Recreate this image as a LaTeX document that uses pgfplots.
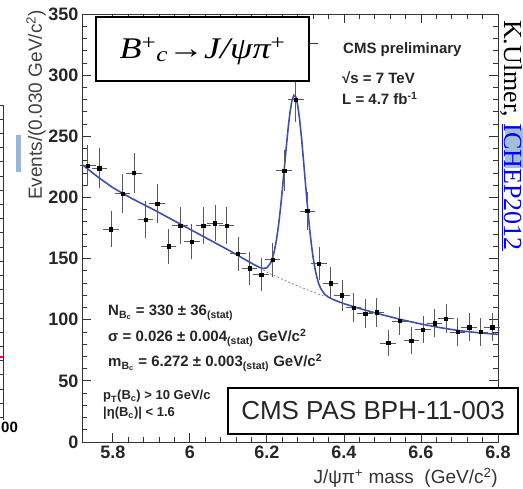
\documentclass[border=0pt]{standalone}
\usepackage{fontspec}
\setmainfont{Liberation Sans}
\newfontfamily\tnr{Liberation Serif}
\usepackage{pgfplots}
\usepackage{pgfplotstable}
\pgfplotsset{compat=1.18}
\definecolor{fitblue}{RGB}{60,80,180}
\definecolor{hlblue}{RGB}{165,190,215}
\definecolor{barblue}{RGB}{150,182,215}
\pgfplotstableread{
x y ex ey
5.735 226 0.015 15.0
5.765 224 0.015 15.0
5.795 174 0.015 13.2
5.825 203 0.015 14.2
5.855 220 0.015 14.8
5.885 182 0.015 13.5
5.915 195 0.015 14.0
5.945 160 0.015 12.6
5.975 177 0.015 13.3
6.005 164 0.015 12.8
6.035 177 0.015 13.3
6.065 179 0.015 13.4
6.095 177 0.015 13.3
6.125 154 0.015 12.4
6.155 142 0.015 11.9
6.185 137 0.015 11.7
6.215 149 0.015 12.2
6.245 222 0.015 14.9
6.275 280 0.015 16.7
6.305 189 0.015 13.7
6.335 146 0.015 12.1
6.365 130 0.015 11.4
6.395 120 0.015 11.0
6.425 110 0.015 10.5
6.455 105 0.015 10.2
6.485 106 0.015 10.3
6.515 81 0.015 9.0
6.545 99 0.015 9.9
6.575 83 0.015 9.1
6.605 92 0.015 9.6
6.635 97 0.015 9.8
6.665 101 0.015 10.0
6.695 90 0.015 9.5
6.725 94 0.015 9.7
6.755 90 0.015 9.5
6.785 94 0.015 9.7
}\datatab
\begin{document}
\begin{tikzpicture}
\useasboundingbox (-82pt,-47pt) rectangle (441pt,442pt);
\clip (-82pt,-47pt) rectangle (441pt,442pt);
\begin{axis}[at={(0pt,0pt)}, anchor=south west, scale only axis,
  width=416pt, height=428pt,
  xmin=5.72, xmax=6.80, ymin=0, ymax=350,
  xtick={5.8,6.0,6.2,6.4,6.6,6.8}, xticklabels={5.8,6,6.2,6.4,6.6,6.8},
  ytick={0,50,...,350},
  minor x tick num=4, minor y tick num=4,
  tick align=inside, major tick length=9pt, minor tick length=5pt,
  axis line style={black!80, line width=0.9pt},
  tick style={black!80, line width=0.8pt},
  ticklabel style={font=\fontsize{18}{18}\selectfont\bfseries, text=black!85},
  /pgf/number format/assume math mode=true,
  clip=false]
\addplot[fitblue, line width=1.6pt] coordinates {
(5.72,227)(5.76,217)(5.80,208)(5.85,199)(5.90,191)(5.95,182.5)(6.00,174)(6.05,165.5)(6.10,157)(6.13,151.6)(6.16,146.2)(6.17,144.5)(6.18,142.9)(6.19,141.9)(6.20,142.4)(6.21,146.5)(6.215,150.8)(6.22,157.0)(6.225,165.5)(6.23,176.5)(6.235,190.1)(6.24,205.8)(6.245,222.8)(6.25,240.0)(6.255,256.2)(6.26,269.6)(6.265,279.1)(6.27,283.5)(6.275,282.3)(6.28,275.5)(6.285,263.8)(6.29,248.4)(6.295,230.6)(6.30,211.9)(6.305,193.8)(6.31,177.2)(6.315,162.8)(6.32,150.9)(6.325,141.5)(6.33,134.4)(6.335,129.1)(6.34,125.4)(6.35,120.8)(6.36,118.4)(6.37,116.8)(6.38,115.5)(6.39,114.3)(6.40,113.1)(6.45,108.3)(6.50,104)(6.55,100)(6.60,96.5)(6.65,93.5)(6.70,91)(6.75,89.3)(6.80,88)};
\addplot[black!55, line width=0.6pt, dash pattern=on 2pt off 2pt] coordinates {
(6.19,140.8)(6.20,139.0)(6.22,136.0)(6.24,133.1)(6.26,130.3)(6.28,127.7)(6.30,125.1)(6.32,122.7)(6.34,120.3)(6.35,119.1)};
\addplot[only marks, mark=square*, mark size=1.7pt, black,
  error bars/.cd, x dir=both, x explicit, y dir=both, y explicit,
  error bar style={black!65, line width=0.6pt},
  error mark options={black!65, line width=0.6pt, mark size=2pt}]
  table[x=x, y=y, x error=ex, y error=ey] {\datatab};
\end{axis}
% title box
\draw[line width=1.5pt, fill=white] (14pt,361pt) rectangle (227pt,425pt);
\node[inner sep=0, xscale=1.2] at (120.5pt,391pt) {\tnr\fontsize{30}{30}\selectfont\itshape B\textsuperscript{\upshape +}\textsubscript{c}{\upshape →}J/ψπ\textsuperscript{\upshape +}};
\draw[black!80, line width=0.8pt] (227pt,399pt) -- (236pt,399pt);
% CMS box
\draw[line width=1.3pt, fill=white] (146pt,8pt) rectangle (436pt,54pt);
\node[inner sep=0, font=\fontsize{26}{26}\selectfont, text=black!85] at (291pt,31pt) {CMS PAS BPH-11-003};
% CMS texts
\begin{scope}[every node/.style={inner sep=0, anchor=base west, text=black!85}]
\node[font=\fontsize{15}{15}\selectfont\bfseries] at (261pt,388pt) {CMS preliminary};
\node[font=\fontsize{15}{15}\selectfont\bfseries] at (260pt,358pt) {√s = 7 TeV};
\node[font=\fontsize{15}{15}\selectfont\bfseries] at (260pt,337pt) {L = 4.7 fb\textsuperscript{-1}};
\node[font=\fontsize{15}{15}\selectfont\bfseries] at (26pt,126pt) {N\textsubscript{B\textsubscript{c}} = 330 ± 36\textsubscript{(stat)}};
\node[font=\fontsize{15}{15}\selectfont\bfseries] at (26pt,100pt) {σ = 0.026 ± 0.004\textsubscript{(stat)} GeV/c\textsuperscript{2}};
\node[font=\fontsize{15}{15}\selectfont\bfseries] at (26pt,75pt) {m\textsubscript{B\textsubscript{c}} = 6.272 ± 0.003\textsubscript{(stat)} GeV/c\textsuperscript{2}};
\node[font=\fontsize{13}{13}\selectfont\bfseries] at (21pt,42pt) {p\textsubscript{T}(B\textsubscript{c}) > 10 GeV/c};
\node[font=\fontsize{13}{13}\selectfont\bfseries] at (21pt,25pt) {|η(B\textsubscript{c})| < 1.6};
\end{scope}
% axis titles
\node[inner sep=0, anchor=base east, font=\fontsize{19}{19}\selectfont, text=black!80] at (416pt,-42pt) {J/ψπ\textsuperscript{+} mass\ \ (GeV/c\textsuperscript{2})};
\node[inner sep=0, rotate=90, anchor=base, font=\fontsize{19}{19}\selectfont, text=black!75] at (-40pt,337pt) {Events/(0.030 GeV/c\textsuperscript{2})};
% right side citation
\fill[hlblue] (423pt,274pt) rectangle (441pt,314pt);
\node[inner sep=0, rotate=-90, anchor=base west, font=\tnr\fontsize{26}{26}\selectfont] at (422pt,422pt) {K.Ulmer, \textcolor{blue}{\underline{ICHEP2012}}};
% left fragments of neighbouring figure
\draw[black!80, line width=0.8pt] (-82pt,337pt) -- (-79pt,337pt) -- (-79pt,22pt);
\foreach \k in {1,...,22} \draw[black!80, line width=0.6pt] (-82pt,{(337-14.2*\k)*1pt}) -- (-79pt,{(337-14.2*\k)*1pt});
\draw[red!80!magenta, line width=1.2pt] (-82pt,85pt) -- (-79pt,85pt);
\fill[barblue] (-66pt,270pt) rectangle (-61pt,307pt);
\node[inner sep=0, anchor=west, font=\fontsize{15}{15}\selectfont\bfseries] at (-81pt,15pt) {00};
\end{tikzpicture}
\end{document}
